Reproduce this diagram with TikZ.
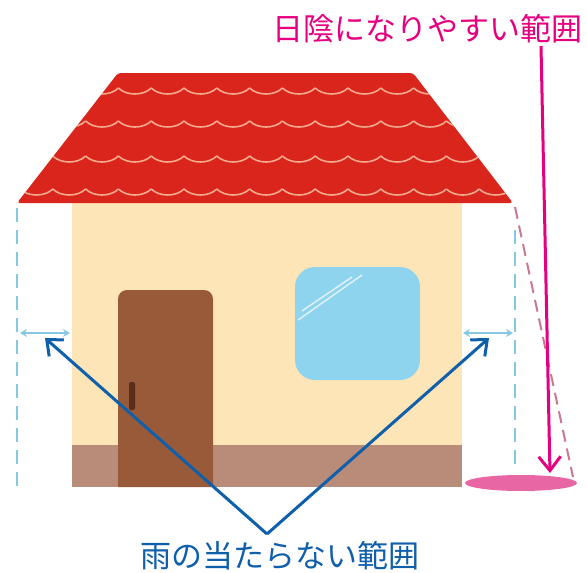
\documentclass[tikz,border=0pt]{standalone}
\usepackage{fontspec}
\newfontfamily\jpfont{Noto Sans CJK JP}
\usepackage{xcolor}
\definecolor{roof-red}{HTML}{D9251C}
\definecolor{tile-line}{HTML}{F6A98C}
\definecolor{wall-cream}{HTML}{FDE5B8}
\definecolor{base-brown}{HTML}{B98B79}
\definecolor{door-brown}{HTML}{985A38}
\definecolor{knob-brown}{HTML}{5A2E1A}
\definecolor{glass-blue}{HTML}{8ED4EE}
\definecolor{guide-blue}{HTML}{86C8E2}
\definecolor{shade-pink}{HTML}{C9798F}
\definecolor{puddle-pink}{HTML}{E866A4}
\definecolor{label-magenta}{HTML}{E4007F}
\definecolor{label-blue}{HTML}{0F5FAA}
\usetikzlibrary{arrows.meta}

\tikzset{
  guide/.style={guide-blue, line width=2.2pt, dash pattern=on 14pt off 8pt},
  gap arrow/.style={guide-blue, line width=2.2pt,
    {Stealth[length=7pt,width=8pt]}-{Stealth[length=7pt,width=8pt]}},
  pointer/.style={label-blue, line width=3pt,
    -{Straight Barb[length=13pt,width=22pt]}},
  caption/.style={font=\jpfont\fontsize{31}{31}\selectfont, inner sep=0pt},
}

\begin{document}
\begin{tikzpicture}[x=1pt,y=-1pt]

  \useasboundingbox (0,0) rectangle (587,573);

  % Wall and baseboard
  \fill[wall-cream] (72,190) rectangle (462,487);
  \fill[base-brown] (72,445) rectangle (462,487);

  % Door with its handle
  \fill[door-brown] (118,487) [rounded corners=9pt] -- (118,290) -- (213,290)
    [sharp corners] -- (213,487) -- cycle;
  \fill[knob-brown, rounded corners=2pt] (129,382) rectangle (135,410);

  % Window and glare
  \fill[glass-blue, rounded corners=20pt] (295,267) rectangle (420,380);
  \draw[white, opacity=0.7, line width=1.5pt] (298,320) -- (362,275);
  \draw[white, opacity=0.7, line width=1.5pt] (302,311) -- (352,277);

  % Roof
  \fill[roof-red, rounded corners=3pt] (118,73) -- (413,73) -- (513,203) -- (17,203) -- cycle;

  % Tile scallops, clipped to the roof
  \begin{scope}
    \clip (118,73) -- (413,73) -- (513,203) -- (17,203) -- cycle;
    \foreach \y in {88,121,156,189}
      \foreach \k in {0,...,15}
        \draw[tile-line, line width=1.6pt]
          ({20+32.8*\k},\y) .. controls ({28+32.8*\k},{\y+8}) and ({45+32.8*\k},{\y+8})
          .. ({52.8+32.8*\k},\y);
  \end{scope}

  % Drip lines under the eaves
  \draw[guide] (17,208) -- (17,488);
  \draw[guide] (515,230) -- (515,467);
  \draw[shade-pink, line width=2pt, dash pattern=on 12pt off 7pt] (515,207) -- (573,477);

  % Dry strips beside the walls
  \coordinate (left-gap-a) at (20,333);
  \coordinate (left-gap-b) at (70,333);
  \coordinate (right-gap-a) at (463,333);
  \coordinate (right-gap-b) at (513,333);
  \draw[gap arrow] (left-gap-a) -- (left-gap-b);
  \draw[gap arrow] (right-gap-a) -- (right-gap-b);

  % Shaded patch on the ground
  \fill[puddle-pink] (521,483) ellipse [x radius=56pt, y radius=8pt];

  % Labels
  \node[caption, text=label-magenta] (shade-label) at (427,29) {日陰になりやすい範囲};
  \node[caption, text=label-blue] (rain-label) at (280,556) {雨の当たらない範囲};

  % Pointers from the labels
  \coordinate (shade-top) at (541,46);
  \coordinate (shade-end) at (550,473);
  \draw[label-magenta, line width=3pt, -{Straight Barb[length=14pt,width=22pt]}]
    (shade-top) -- (shade-end);

  \coordinate (rain-apex) at (267,534);
  \coordinate (left-tip) at (45,338);
  \coordinate (right-tip) at (489,338);
  \draw[pointer] (rain-apex) -- (left-tip);
  \draw[pointer] (rain-apex) -- (right-tip);

\end{tikzpicture}
\end{document}
